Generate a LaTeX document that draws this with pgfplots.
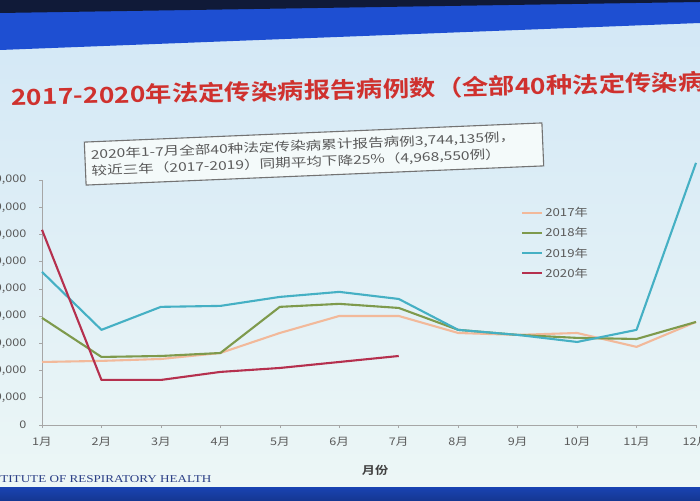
\documentclass[border=0pt]{standalone}
\usepackage{fontspec}
\setmainfont{Noto Sans CJK SC}[FakeStretch=1.2]
\newfontfamily\titlefont{Noto Sans CJK SC Bold}[FakeStretch=1.2]
\newfontfamily\notefont{Noto Sans CJK SC}[FakeStretch=1.3]
\newfontfamily\boldcjk{Noto Sans CJK SC Bold}[FakeStretch=1.2]
\newfontfamily\instfont{Liberation Serif}[FakeStretch=1.25]
\usepackage{pgfplots}
\pgfplotsset{compat=1.18}
\definecolor{cA}{HTML}{F2B99A}
\definecolor{cB}{HTML}{7E9A4C}
\definecolor{cC}{HTML}{45B0C4}
\definecolor{cD}{HTML}{B5304E}
\definecolor{bgTop}{HTML}{D2E7F6}
\definecolor{bgBot}{HTML}{EDF7F6}
\definecolor{bandBlue}{HTML}{1E4FD2}
\definecolor{navy}{HTML}{101A38}
\definecolor{titleRed}{HTML}{CF312E}
\definecolor{txtGray}{HTML}{5A5A5A}
\definecolor{instBlue}{HTML}{2B3F86}
\begin{document}
\begin{tikzpicture}[x=1pt,y=1pt]
\path[use as bounding box] (0,0) rectangle (700,500);
\clip (0,0) rectangle (700,500);
% background
\shade[top color=bgTop, bottom color=bgBot] (0,0) rectangle (700,500);
\fill[bandBlue] (0,500) -- (700,500) -- (700,477) -- (0,450) -- cycle;
\fill[navy] (0,500) -- (700,500) -- (700,498) -- (0,487) -- cycle;
\shade[top color=bandBlue!85!black, bottom color=bandBlue!70!black] (0,0) rectangle (700,13);
% title
\node[anchor=west, rotate=1.25, text=titleRed, font=\titlefont\fontsize{22}{26}\selectfont, inner sep=0pt] at (11,403) {2017-2020年法定传染病报告病例数（全部40种法定传染病）};
% annotation box
\node[rotate=2.4, draw=black!55, line width=1.1pt, fill=white!40!bgBot, text=txtGray, align=left, font=\notefont\fontsize{12}{16.5}\selectfont, minimum width=458pt, minimum height=43pt, inner xsep=6pt, inner ysep=4pt, text width=446pt] at (314,346) {2020年1-7月全部40种法定传染病累计报告病例3,744,135例，\\较近三年（2017-2019）同期平均下降25\%（4,968,550例）};
% chart
\begin{axis}[
  at={(42pt,75pt)}, anchor=south west,
  scale only axis, width=654pt, height=245pt,
  xmin=1, xmax=12, ymin=0, ymax=1800000,
  clip=false,
  axis x line=bottom, axis y line=left,
  axis line style={-, draw=black!35, line width=0.8pt},
  xtick={1,...,12},
  xticklabels={1月,2月,3月,4月,5月,6月,7月,8月,9月,10月,11月,12月},
  ytick={0,200000,...,1800000},
  scaled y ticks=false,
  /pgf/number format/fixed,
  /pgf/number format/1000 sep={,},
  /pgf/number format/assume math mode=true,
  tick style={draw=black!35, line width=0.6pt},
  tick align=outside, major tick length=3pt,
  ticklabel style={font=\fontsize{10.5}{12}\selectfont, text=txtGray},
  xticklabel style={yshift=-6pt},
  yticklabel style={xshift=-9pt},
  legend style={at={(0.728,0.906)}, anchor=north west, draw=none, fill=none,
    font=\fontsize{11}{13}\selectfont, text=txtGray, row sep=5.5pt},
  legend cell align=left,
  legend image code/.code={\draw[#1, line width=2pt] (0pt,0pt) -- (20pt,0pt);},
  every axis plot/.append style={line width=2.1pt, line join=round},
]
\addplot[cA] coordinates {(1,463000) (2,471000) (3,485000) (4,529000) (5,676000) (6,801000) (7,801000) (8,676000) (9,662000) (10,676000) (11,574000) (12,757000)};
\addlegendentry{2017年}
\addplot[cB] coordinates {(1,787000) (2,500000) (3,507000) (4,529000) (5,868000) (6,890000) (7,860000) (8,699000) (9,662000) (10,640000) (11,632000) (12,757000)};
\addlegendentry{2018年}
\addplot[cC] coordinates {(1,1125000) (2,699000) (3,868000) (4,875000) (5,941000) (6,978000) (7,926000) (8,699000) (9,662000) (10,610000) (11,699000) (12,1926000)};
\addlegendentry{2019年}
\addplot[cD] coordinates {(1,1434000) (2,331000) (3,331000) (4,390000) (5,419000) (6,463000) (7,507000)};
\addlegendentry{2020年}
\end{axis}
\node[font=\boldcjk\fontsize{11}{13}\selectfont, text=black!75] at (375,30) {月份};
\node[anchor=east, font=\instfont\fontsize{10.5}{12}\selectfont, text=instBlue] at (215,21) {INSTITUTE OF RESPIRATORY HEALTH};
\end{tikzpicture}
\end{document}
